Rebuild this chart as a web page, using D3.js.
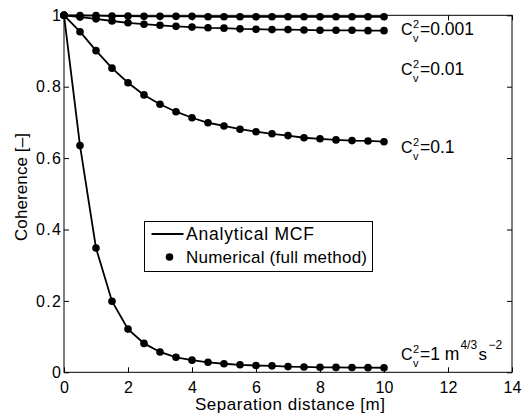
<!DOCTYPE html>
<html>
<head>
<meta charset="utf-8">
<script src="https://cdn.jsdelivr.net/npm/d3@7"></script>
<style>
  body { margin: 0; background: #fff; }
  svg text { font-family: "Liberation Sans", Arial, Helvetica, sans-serif; fill: #000; }
</style>
</head>
<body>
<svg id="chart" width="528" height="419"></svg>
<script>
// separation distances [m]
var distances = [0, 0.5, 1, 1.5, 2, 2.5, 3, 3.5, 4, 4.5, 5, 5.5, 6, 6.5, 7, 7.5, 8, 8.5, 9, 9.5, 10];

// coherence values, one array per C_v^2
var coh0001 = [1, 0.9995, 0.999, 0.998, 0.998, 0.997, 0.997, 0.997, 0.997, 0.996, 0.996, 0.996, 0.996, 0.996, 0.996, 0.996, 0.996, 0.996, 0.996, 0.996, 0.996];
var coh001 = [1, 0.995, 0.990, 0.984, 0.979, 0.975, 0.972, 0.969, 0.967, 0.965, 0.964, 0.962, 0.961, 0.960, 0.960, 0.959, 0.958, 0.958, 0.958, 0.957, 0.957];
var coh01 = [1, 0.954, 0.901, 0.852, 0.811, 0.777, 0.751, 0.730, 0.713, 0.699, 0.690, 0.681, 0.674, 0.668, 0.663, 0.657, 0.654, 0.651, 0.649, 0.648, 0.646];
var coh1 = [1, 0.635, 0.348, 0.199, 0.121, 0.081, 0.057, 0.042, 0.034, 0.028, 0.024, 0.021, 0.019, 0.018, 0.016, 0.015, 0.014, 0.0137, 0.0133, 0.013, 0.0127];

var seriesList = [coh0001, coh001, coh01, coh1];

var xTicks = [0, 2, 4, 6, 8, 10, 12, 14];
var yTicks = [0, 0.2, 0.4, 0.6, 0.8, 1];

// labels next to the curves (y in data units)
var curveLabels = [
  { value: "=0.001", y: 0.944 },
  { value: "=0.01", y: 0.832 },
  { value: "=0.1", y: 0.614 },
  { value: "=1 m", y: 0.035, unit: true }
];

var svg = d3.select("#chart");

var x = d3.scaleLinear().domain([0, 14]).range([64, 512]);
var y = d3.scaleLinear().domain([0, 1]).range([372.3, 15.3]);

var fontSize = 17;

// frame
svg.append("rect")
  .attr("x", x(0)).attr("y", y(1))
  .attr("width", x(14) - x(0)).attr("height", y(0) - y(1))
  .attr("fill", "none").attr("stroke", "#000").attr("stroke-width", 1);

// axes with inward ticks, mirrored on top and right
var xb = svg.append("g").attr("transform", "translate(0," + y(0) + ")")
  .call(d3.axisBottom(x).tickValues(xTicks).tickSize(-5).tickPadding(9).tickFormat(d3.format("d")));
var xt = svg.append("g").attr("transform", "translate(0," + y(1) + ")")
  .call(d3.axisTop(x).tickValues(xTicks).tickSize(-5).tickFormat(""));
var yl = svg.append("g").attr("transform", "translate(" + x(0) + ",0)")
  .call(d3.axisLeft(y).tickValues(yTicks).tickSize(-5).tickPadding(3).tickFormat(function(d) { return d3.format("~g")(d); }));
var yr = svg.append("g").attr("transform", "translate(" + x(14) + ",0)")
  .call(d3.axisRight(y).tickValues(yTicks).tickSize(-5).tickFormat(""));

[xb, xt, yl, yr].forEach(function(g) {
  g.select(".domain").remove();
  g.selectAll("line").attr("stroke", "#000");
  g.selectAll("text").attr("font-size", 16).attr("font-family", null).attr("fill", "#000");
});
yl.selectAll("text")
  .filter(function(d) { return d > 0 && d < 1; })
  .attr("textLength", 25).attr("lengthAdjust", "spacing");

// axis titles
svg.append("text")
  .attr("x", 195).attr("y", 410)
  .attr("font-size", fontSize)
  .attr("textLength", 190).attr("lengthAdjust", "spacing")
  .text("Separation distance [m]");

svg.append("text")
  .attr("transform", "translate(26.5,241) rotate(-90)")
  .attr("font-size", fontSize)
  .attr("textLength", 108).attr("lengthAdjust", "spacing")
  .text("Coherence [\u2013]");

// analytical lines + numerical markers
var line = d3.line()
  .x(function(d, i) { return x(distances[i]); })
  .y(function(d) { return y(d); });

seriesList.forEach(function(vals) {
  svg.append("path")
    .datum(vals)
    .attr("d", line)
    .attr("fill", "none").attr("stroke", "#000").attr("stroke-width", 1.8);

  svg.selectAll(null)
    .data(vals)
    .enter().append("circle")
    .attr("cx", function(d, i) { return x(distances[i]); })
    .attr("cy", function(d) { return y(d); })
    .attr("r", 3.8)
    .attr("fill", "#000");
});

// curve labels C_v^2=...
curveLabels.forEach(function(l) {
  var bx = 401, by = y(l.y);
  svg.append("text").attr("x", bx).attr("y", by).attr("font-size", 16).text("C");
  svg.append("text").attr("x", bx + 12).attr("y", by - 7).attr("font-size", 11).text("2");
  svg.append("text").attr("x", bx + 12).attr("y", by + 7).attr("font-size", 11).text("v");
  var t = svg.append("text").attr("x", bx + 19).attr("y", by).attr("font-size", 17.5).text(l.value);
  if (l.unit) {
    var ux = bx + 19 + t.node().getComputedTextLength() + 1;
    svg.append("text").attr("x", ux).attr("y", by - 11).attr("font-size", 12).text("4/3");
    svg.append("text").attr("x", ux + 18).attr("y", by).attr("font-size", fontSize).text("s");
    svg.append("text").attr("x", ux + 28).attr("y", by - 11).attr("font-size", 12).text("\u22122");
  }
});

// legend
var lg = svg.append("g");
lg.append("rect")
  .attr("x", 144.5).attr("y", 221.5).attr("width", 228).attr("height", 50)
  .attr("fill", "#fff").attr("stroke", "#000").attr("stroke-width", 1);
lg.append("line")
  .attr("x1", 151.5).attr("x2", 183.5).attr("y1", 234).attr("y2", 234)
  .attr("stroke", "#000").attr("stroke-width", 1.8);
lg.append("text").attr("x", 186).attr("y", 240).attr("font-size", 17.5)
  .attr("textLength", 128).attr("lengthAdjust", "spacing").text("Analytical MCF");
lg.append("circle").attr("cx", 169.5).attr("cy", 257).attr("r", 3.8).attr("fill", "#000");
lg.append("text").attr("x", 186).attr("y", 263).attr("font-size", fontSize)
  .attr("textLength", 181).attr("lengthAdjust", "spacing").text("Numerical (full method)");
</script>
</body>
</html>
